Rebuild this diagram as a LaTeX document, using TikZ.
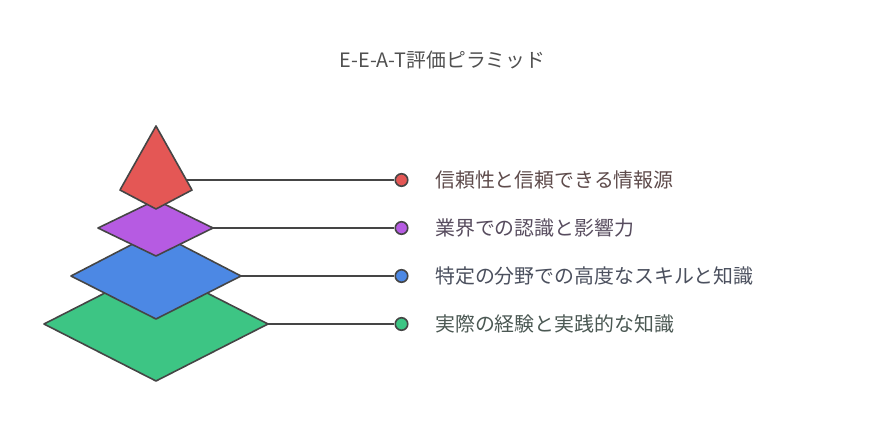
\documentclass[tikz,border=0pt]{standalone}
\usepackage{fontspec}
\setmainfont{Noto Sans CJK JP}
\begin{document}
\begin{tikzpicture}[x=1pt,y=-1pt,
  layer/.style={draw=black!73, line width=1.6pt, line join=round},
  conn/.style={draw=black!73, line width=1.6pt},
  dot/.style={circle, draw=black!73, line width=1.6pt, minimum size=12.5pt, inner sep=0pt},
  lbl/.style={anchor=west, font=\fontsize{19.9}{22}\selectfont, inner sep=0pt}]
\definecolor{cred}{HTML}{E45755}
\definecolor{cpurple}{HTML}{B65BE2}
\definecolor{cblue}{HTML}{4C88E4}
\definecolor{cgreen}{HTML}{3DC584}
\definecolor{tred}{HTML}{5E4B4B}
\definecolor{tpurple}{HTML}{574C5E}
\definecolor{tblue}{HTML}{4B505E}
\definecolor{tgreen}{HTML}{4B5853}
\definecolor{ttitle}{HTML}{505050}
\useasboundingbox (0,0) rectangle (888,444);
\node[font=\fontsize{19.8}{22}\selectfont, text=ttitle] (title) at (442.5,60) {E-E-A-T評価ピラミッド};
% layers (bottom to top)
\draw[layer, fill=cgreen] (44,324) -- (156,267) -- (268,324) -- (156,381) -- cycle;
\coordinate (gR) at (268,324);
\draw[layer, fill=cblue] (71,276) -- (156,232) -- (241,276) -- (156,319) -- cycle;
\coordinate (bR) at (241,276);
\draw[layer, fill=cpurple] (98,228) -- (156,200) -- (213,228) -- (156,256) -- cycle;
\coordinate (pR) at (213,228);
\draw[layer, fill=cred] (156,126) -- (192,190) -- (156,209) -- (120,190) -- cycle;
\coordinate (rR) at (186.5,180);
% dots
\node[dot, fill=cred] (d1) at (401.5,180) {};
\node[dot, fill=cpurple] (d2) at (401.5,228) {};
\node[dot, fill=cblue] (d3) at (401.5,276) {};
\node[dot, fill=cgreen] (d4) at (401.5,324) {};
\draw[conn] (rR) -- (d1);
\draw[conn] (pR) -- (d2);
\draw[conn] (bR) -- (d3);
\draw[conn] (gR) -- (d4);
% labels
\node[lbl, text=tred] (l1) at (435,180) {信頼性と信頼できる情報源};
\node[lbl, text=tpurple] (l2) at (435,228) {業界での認識と影響力};
\node[lbl, text=tblue] (l3) at (435,276) {特定の分野での高度なスキルと知識};
\node[lbl, text=tgreen] (l4) at (435,324) {実際の経験と実践的な知識};
\end{tikzpicture}
\end{document}
